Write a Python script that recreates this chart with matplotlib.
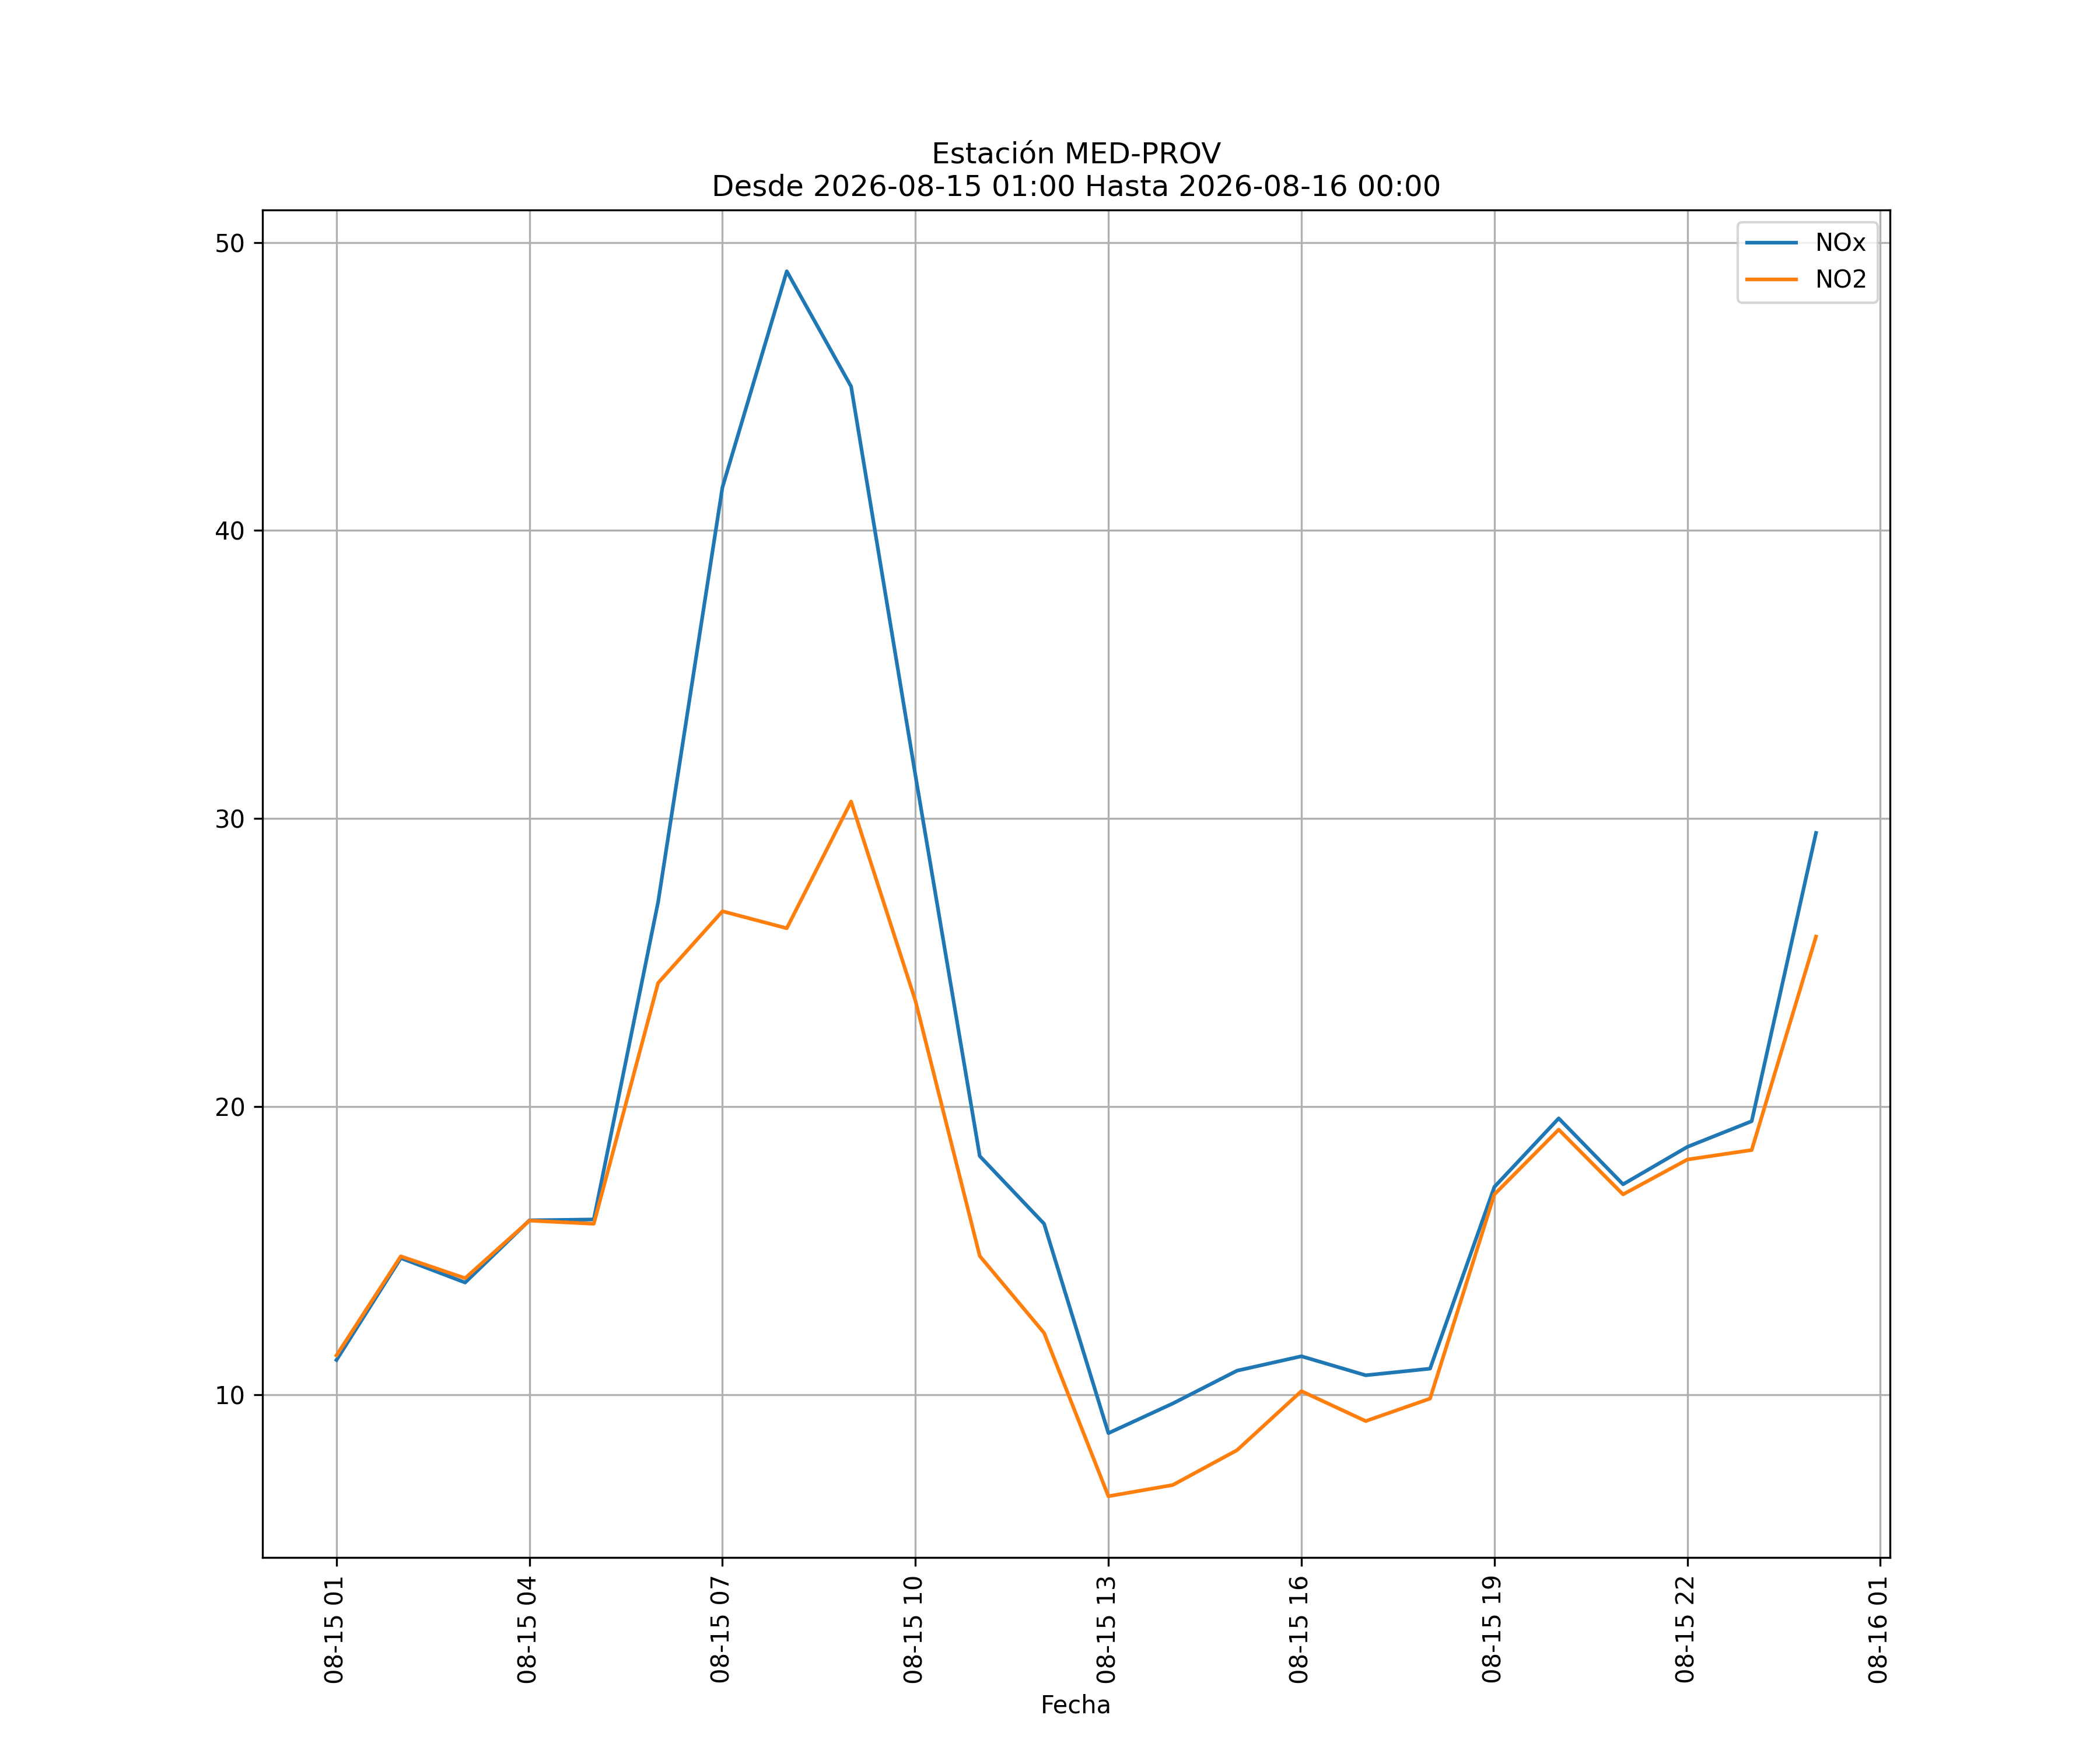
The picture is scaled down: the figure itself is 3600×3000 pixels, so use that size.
import matplotlib
matplotlib.use('Agg')
import matplotlib.pyplot as plt
import matplotlib.dates as mdates
import pandas as pd

fechas = pd.date_range('2026-08-15 01:00', '2026-08-16 00:00', freq='h')
nox = [11.2, 14.74, 13.89, 16.05, 16.08, 27.1, 41.5, 49.0, 45.0, 31.5, 18.28, 15.93,
       8.66, 9.69, 10.83, 11.33, 10.67, 10.9, 17.21, 19.59, 17.3, 18.6, 19.49, 29.5]
no2 = [11.36, 14.8, 14.04, 16.04, 15.93, 24.29, 26.78, 26.19, 30.59, 23.67, 14.81, 12.14,
       6.47, 6.86, 8.07, 10.12, 9.08, 9.86, 16.95, 19.2, 16.95, 18.16, 18.49, 25.9]

fig, ax = plt.subplots(figsize=(12, 10), dpi=300)
ax.plot(fechas, nox, label='NOx')
ax.plot(fechas, no2, label='NO2')
ax.set_title('Estación MED-PROV\nDesde 2026-08-15 01:00 Hasta 2026-08-16 00:00')
ax.set_xlabel('Fecha')
ax.xaxis.set_major_locator(mdates.HourLocator(byhour=range(1, 24, 3)))
ax.xaxis.set_major_formatter(mdates.DateFormatter('%m-%d %H'))
plt.setp(ax.get_xticklabels(), rotation=90)
ax.grid(True)
ax.legend(loc='upper right')
fig.savefig('out.png')
